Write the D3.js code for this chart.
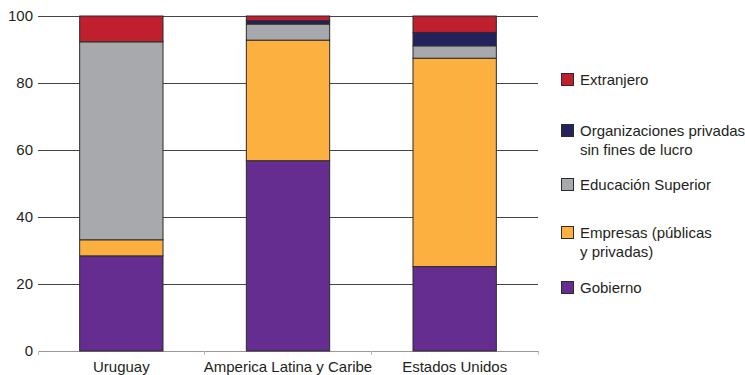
<!DOCTYPE html>
<html><head><meta charset="utf-8">
<script src="https://cdn.jsdelivr.net/npm/d3@7"></script>
<style>body{margin:0;background:#fff;} svg{display:block;} text{font-family:"Liberation Sans",Arial,sans-serif;}</style>
</head><body><svg id="c" width="745" height="375"></svg>
<script>
const categories = ["Uruguay", "Amperica Latina y Caribe", "Estados Unidos"];
const seriesNames = ["Gobierno", "Empresas (públicas y privadas)", "Educación Superior", "Organizaciones privadas sin fines de lucro", "Extranjero"];
const gobierno = [28.4, 56.8, 25.2];
const empresas = [4.8, 36.0, 62.2];
const educacion = [59.1, 4.8, 3.7];
const organizaciones = [0, 1.0, 4.0];
const extranjero = [7.7, 1.4, 4.9];
const yTicks = [0, 20, 40, 60, 80, 100];
const legendLabels = [["Extranjero"], ["Organizaciones privadas", "sin fines de lucro"], ["Educación Superior"], ["Empresas (públicas", "y privadas)"], ["Gobierno"]];
const colors = ["#652d90", "#fbb040", "#a8a9ad", "#23215e", "#c01f2e"];

const svg = d3.select("#c");
const m = {l: 38, r: 207, t: 16, b: 24};
const W = 745 - m.l - m.r, H = 375 - m.t - m.b;
const g = svg.append("g").attr("transform", `translate(${m.l},${m.t})`);

const x = d3.scaleBand().domain(categories).range([0, W]).paddingInner(0.5).paddingOuter(0.25);
const y = d3.scaleLinear().domain([0, 100]).range([H, 0]);
const FS = 15;

// gridlines
g.append("g").selectAll("line").data(yTicks).join("line")
  .attr("x1", 0).attr("x2", W).attr("y1", d => y(d)).attr("y2", d => y(d))
  .attr("stroke", d => d === 0 ? "#999" : "#444").attr("stroke-width", 1).attr("shape-rendering", "crispEdges");

// y labels
g.append("g").selectAll("text").data(yTicks).join("text")
  .attr("x", -5).attr("y", d => y(d)).attr("dy", "0.35em").attr("text-anchor", "end")
  .attr("font-size", FS).attr("fill", "#231f20").text(d => d);

// x ticks at band boundaries
const bounds = [0, W / 3, 2 * W / 3, W];
g.append("g").selectAll("line").data(bounds).join("line")
  .attr("x1", d => d).attr("x2", d => d).attr("y1", H).attr("y2", H + 4)
  .attr("stroke", "#bbb").attr("shape-rendering", "crispEdges");

const rows = categories.map((c, i) => ({cat: c, s0: gobierno[i], s1: empresas[i], s2: educacion[i], s3: organizaciones[i], s4: extranjero[i]}));
const stack = d3.stack().keys(["s0", "s1", "s2", "s3", "s4"]);
const layers = stack(rows);

g.append("g").selectAll("g").data(layers).join("g")
  .attr("fill", (d, i) => colors[i])
  .selectAll("rect").data(d => d.filter(p => p[1] - p[0] > 0)).join("rect")
  .attr("x", d => x(d.data.cat)).attr("width", x.bandwidth())
  .attr("y", d => y(d[1])).attr("height", d => y(d[0]) - y(d[1]))
  .attr("stroke", "#2b2b2b").attr("stroke-width", 1);

// x labels
g.append("g").selectAll("text").data(categories).join("text")
  .attr("x", d => x(d) + x.bandwidth() / 2).attr("y", H + 21).attr("text-anchor", "middle")
  .attr("font-size", FS).attr("fill", "#231f20").text(d => d);

// legend
const legY = [80, 131, 185, 233, 288];
const leg = svg.append("g");
legendLabels.forEach((lines, i) => {
  const ci = 4 - i;
  leg.append("rect").attr("x", 561.5).attr("y", legY[i] - 6.5).attr("width", 12).attr("height", 12)
    .attr("fill", colors[ci]).attr("stroke", "#2b2b2b").attr("stroke-width", 1);
  const t = leg.append("text").attr("x", 580).attr("y", legY[i])
    .attr("font-size", FS).attr("fill", "#231f20");
  lines.forEach((ln, j) => t.append("tspan").attr("x", 580).attr("dy", j === 0 ? "0.35em" : 19).text(ln));
});
</script></body></html>
